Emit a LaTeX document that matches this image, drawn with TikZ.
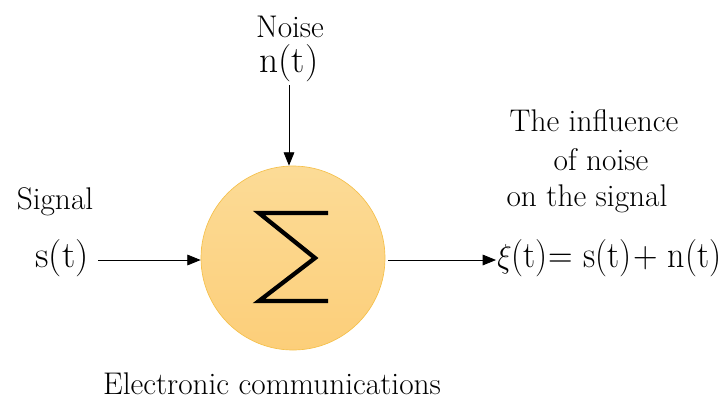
\documentclass[tikz,border=0pt]{standalone}
\usepackage{graphicx}
\usetikzlibrary{arrows.meta}
\definecolor{sumfill}{HTML}{FCD584}
\definecolor{sumedge}{HTML}{F5C04A}
\tikzset{
  lbl/.style={font=\rmfamily\fontsize{23.5}{26}\selectfont, inner sep=0pt},
  frm/.style={font=\rmfamily\fontsize{28}{32}\selectfont, inner sep=0pt},
  arr/.style={-{Triangle[length=10pt,width=8pt]}, line width=0.6pt},
}
\begin{document}
\begin{tikzpicture}[x=0.75pt,y=-0.75pt]
\useasboundingbox (0,0) rectangle (721,401);
\node[circle, minimum size=138pt, inner sep=0pt, top color=sumfill!85!white, bottom color=sumfill!92!orange, draw=sumedge, line width=0.5pt] (sum) at (293,258) {};
\draw[line width=3.2pt, line cap=butt, line join=miter] (328,213) -- (259,213) -- (315,258) -- (259,301) -- (328,301);
\node[lbl] (noise) at (290,27) {Noise};
\node[frm] (nt) at (289,63) {n(t)};
\node[lbl] (signal) at (55,202) {Signal};
\node[frm] (st) at (62,258) {s(t)};
\node[lbl] (inf1) at (594,121) {The influence};
\node[lbl] (inf2) at (601,160) {of noise};
\node[lbl] (inf3) at (587,199) {on the signal};
\node[frm, anchor=west] (xi) at (497,258) {\scalebox{0.91}[1]{$\xi$(t)\kern1pt= s(t)\kern1pt+ n(t)}};
\node[lbl] (ec) at (272,384) {Electronic communications};
\coordinate (ntend) at (289,85);
\coordinate (sin) at (98,260);
\coordinate (xin) at (496,260);
\draw[arr] (ntend) -- (ntend |- sum.north);
\draw[arr] (sin) -- (sin -| sum.west);
\draw[arr] (xin -| sum.east) ++(2pt,0) -- (xin);
\end{tikzpicture}
\end{document}
